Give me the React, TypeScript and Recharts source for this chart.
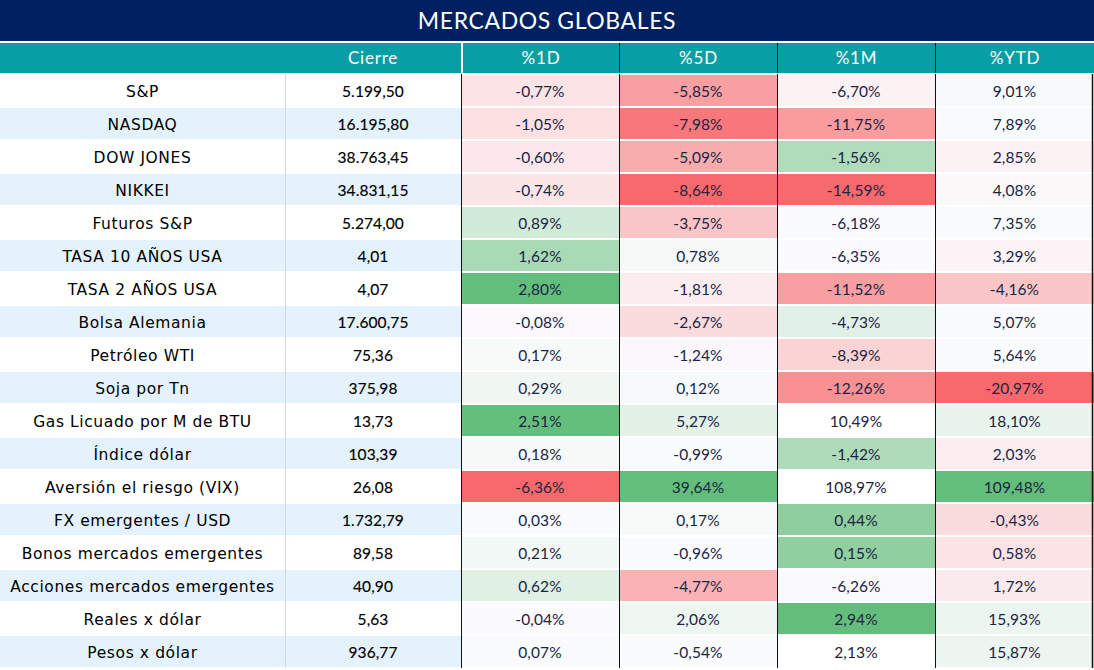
import { BarChart, Bar, XAxis, YAxis, Cell, LabelList } from 'recharts';

const rowLabels = [
  'S&P', 'NASDAQ', 'DOW JONES', 'NIKKEI', 'Futuros S&P', 'TASA 10 AÑOS USA',
  'TASA 2 AÑOS USA', 'Bolsa Alemania', 'Petróleo WTI', 'Soja por Tn',
  'Gas Licuado por M de BTU', 'Índice dólar', 'Aversión el riesgo (VIX)',
  'FX emergentes / USD', 'Bonos mercados emergentes', 'Acciones mercados emergentes',
  'Reales x dólar', 'Pesos x dólar',
];
const headers = ['', 'Cierre', '%1D', '%5D', '%1M', '%YTD'];

const cierre = [5199.5, 16195.8, 38763.45, 34831.15, 5274.0, 4.01, 4.07, 17600.75, 75.36, 375.98, 13.73, 103.39, 26.08, 1732.79, 89.58, 40.9, 5.63, 936.77];
const pct1D = [-0.77, -1.05, -0.6, -0.74, 0.89, 1.62, 2.8, -0.08, 0.17, 0.29, 2.51, 0.18, -6.36, 0.03, 0.21, 0.62, -0.04, 0.07];
const pct5D = [-5.85, -7.98, -5.09, -8.64, -3.75, 0.78, -1.81, -2.67, -1.24, 0.12, 5.27, -0.99, 39.64, 0.17, -0.96, -4.77, 2.06, -0.54];
const pct1M = [-6.7, -11.75, -1.56, -14.59, -6.18, -6.35, -11.52, -4.73, -8.39, -12.26, 10.49, -1.42, 108.97, 0.44, 0.15, -6.26, 2.94, 2.13];
const pctYTD = [9.01, 7.89, 2.85, 4.08, 7.35, 3.29, -4.16, 5.07, 5.64, -20.97, 18.1, 2.03, 109.48, -0.43, 0.58, 1.72, 15.93, 15.87];

// heat-map fills (one per cell)
const fill1D = ['#FCE4E6', '#FCE0E2', '#FCE8EA', '#FCE5E7', '#D1EBD9', '#A8DAB5', '#63BE7B', '#FBF9FC', '#F6FAF9', '#F0F7F3', '#65BF7C', '#F5FAF9', '#F8696B', '#FAFBFD', '#F3F9F6', '#E0F0E5', '#FBFAFD', '#F9FBFC'];
const fill5D = ['#F99FA1', '#F8777A', '#F9ACAE', '#F8696B', '#FAC5C7', '#F5F9F8', '#FBEDEF', '#FBDCDE', '#FBF8FB', '#F7FAFA', '#E3F1E7', '#FAFBFD', '#63BE7B', '#F6FAF9', '#FAFBFD', '#FAB2B4', '#EEF6F1', '#F9FBFC'];
const fill1M = ['#FBF2F4', '#F99C9E', '#B0DCBB', '#F8696B', '#FAFBFD', '#FBFBFD', '#F99FA1', '#E2F1E8', '#FAD3D5', '#F99193', '#FFFFFF', '#AEDCBA', '#FFFFFF', '#8ECE9F', '#8FCFA0', '#FAFAFD', '#63BE7B', '#FFFFFF'];
const fillYTD = ['#F7FAFA', '#F8FBFB', '#FCF1F3', '#FBF8FA', '#F8FBFB', '#FCF4F6', '#FAC6C8', '#FAFBFD', '#F9FBFC', '#F8696B', '#E9F4EC', '#FCEDEF', '#63BE7B', '#FBDCDE', '#FCE3E5', '#FCEBED', '#ECF5EF', '#ECF5EF'];

const colWidths = [285, 176, 158, 158, 158, 159];
const dividerColors = ['none', '#D6D6D6', '#111111', '#111111', '#111111', '#111111'];
const NAVY = '#00205F';
const TEAL = '#079EA4';
const BAND = '#E4F2FD';
const NUM_FONT = 'Lato, "Noto Sans", sans-serif';
const LABEL_FONT = '"DejaVu Sans", sans-serif';

const fmtNum = (v: number) => {
  const [i, d] = v.toFixed(2).split('.');
  return i.replace(/\B(?=(\d{3})+(?!\d))/g, '.') + ',' + d;
};
const fmtPct = (v: number) => fmtNum(v) + '%';

const pctCols = [pct1D, pct5D, pct1M, pctYTD];
const pctFills = [fill1D, fill5D, fill1M, fillYTD];

const tableData = rowLabels.map((name, i) => {
  const row: Record<string, string | number> = { name, t0: name, t1: fmtNum(cierre[i]) };
  colWidths.forEach((w, k) => { row[`w${k}`] = w; });
  pctCols.forEach((col, k) => { row[`t${k + 2}`] = fmtPct(col[i]); });
  return row;
});

const fillFor = (k: number, i: number) => {
  if (k < 2) return i % 2 === 0 ? '#FFFFFF' : BAND;
  return pctFills[k - 2][i];
};

const lastName = rowLabels[rowLabels.length - 1];

const cellShape = (k: number) => (props: any) => {
  const { x, y, width, height, fill, payload } = props;
  return (
    <g>
      <rect x={x} y={y + 1} width={width} height={height - 2} fill={fill} />
      {k > 0 && (
        <line x1={x + 0.5} x2={x + 0.5} y1={y} y2={y + height} stroke={dividerColors[k]} strokeWidth={1} />
      )}
      {k === 5 && (
        <line x1={x + width - 1.5} x2={x + width - 1.5} y1={y} y2={y + height} stroke="#111" strokeWidth={1.5} />
      )}
      {payload && payload.name === lastName && (
        <line x1={x} x2={x + width} y1={y + height + 1} y2={y + height + 1} stroke="#111" strokeWidth={2} />
      )}
    </g>
  );
};

const cellText = (k: number) => (props: any) => {
  const vb = props.viewBox || props;
  const { x, y, width, height } = vb;
  const isLabel = k === 0;
  return (
    <text
      x={x + width / 2}
      y={y + height / 2 + 1}
      dy="0.35em"
      textAnchor="middle"
      fill={k >= 2 ? '#1B2444' : '#000000'}
      fontSize={15.5}
      fontFamily={isLabel ? LABEL_FONT : NUM_FONT}
      fontWeight={400}
      letterSpacing={isLabel ? 0.6 : 0.1}
      stroke={k === 1 ? '#000' : 'none'}
      strokeWidth={k === 1 ? 0.15 : 0}
    >
      {props.value}
    </text>
  );
};

const Header = () => {
  let left = 0;
  return (
    <div style={{ position: 'relative', height: 30, marginTop: 2, background: TEAL }}>
      {headers.map((h, k) => {
        const x = left;
        left += colWidths[k];
        return (
          <div
            key={k}
            style={{
              position: 'absolute', left: x, top: 0, width: colWidths[k], height: 30,
              lineHeight: '30px', textAlign: 'center', color: '#FFFFFF', fontSize: 17,
              letterSpacing: 0.8,
              borderLeft: k === 2 ? '2px solid #FFFFFF' : k > 2 ? '1px solid #111' : 'none',
              boxSizing: 'border-box',
            }}
          >
            {h}
          </div>
        );
      })}
    </div>
  );
};

export default function App() {
  return (
    <div style={{ width: 1094, height: 670, position: 'relative', fontFamily: NUM_FONT, background: '#fff' }}>
      <style>{'body{margin:0}'}</style>
      <div
        style={{
          height: 41, background: NAVY, color: '#FFFFFF', fontSize: 23,
          lineHeight: '41px', textAlign: 'center', letterSpacing: 0.6,
        }}
      >
        MERCADOS GLOBALES
      </div>
      <Header />
      <div style={{ marginTop: 1 }}>
        <BarChart
          width={1094}
          height={594}
          data={tableData}
          layout="vertical"
          barCategoryGap={0}
          margin={{ top: 0, right: 0, bottom: 0, left: 0 }}
        >
          <XAxis type="number" domain={[0, 1094]} hide />
          <YAxis type="category" dataKey="name" hide />
          {colWidths.map((_, k) => (
            <Bar
              key={k}
              dataKey={`w${k}`}
              stackId="t"
              isAnimationActive={false}
              shape={cellShape(k)}
            >
              {tableData.map((_, i) => (
                <Cell key={i} fill={fillFor(k, i)} />
              ))}
              <LabelList dataKey={`t${k}`} position="center" content={cellText(k)} />
            </Bar>
          ))}
        </BarChart>
      </div>
    </div>
  );
}
